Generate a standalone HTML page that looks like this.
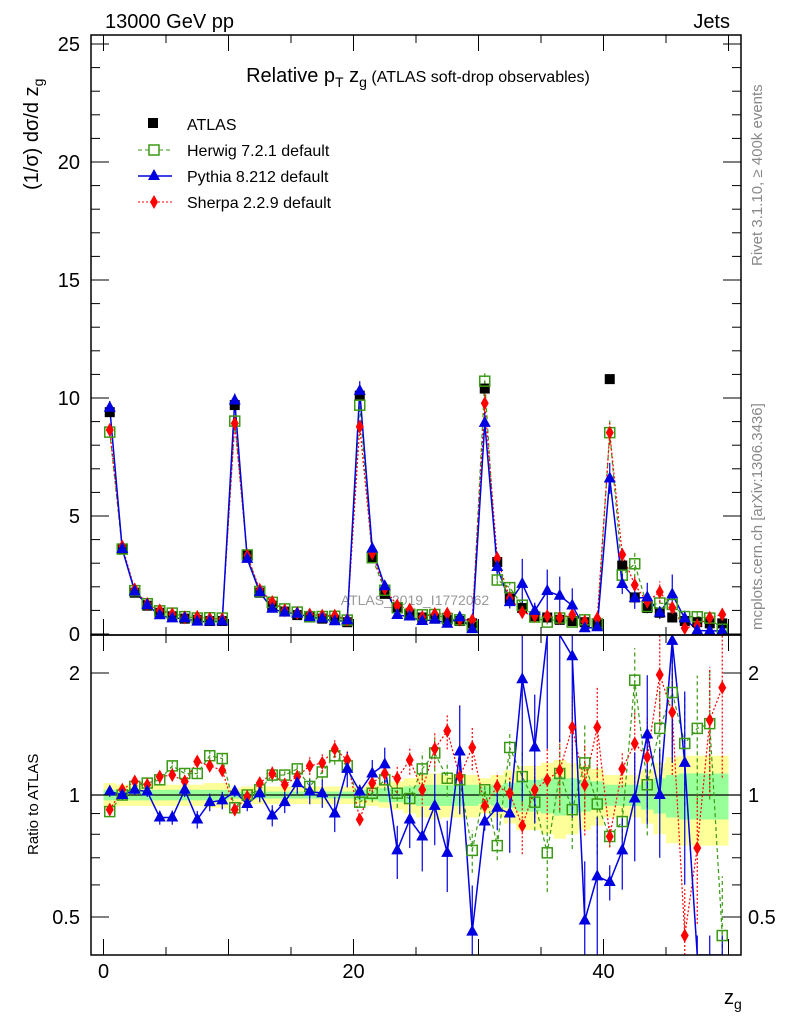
<!DOCTYPE html>
<html><head><meta charset="utf-8"><style>
html,body{margin:0;padding:0;background:#fff;font-family:"Liberation Sans",sans-serif;overflow:hidden;width:786px;height:1024px}
svg{display:block}
svg text{font-family:"Liberation Sans",sans-serif}
</style></head><body>
<svg id="c" width="786" height="1024" xmlns="http://www.w3.org/2000/svg">
<text x="105" y="28" font-size="20">13000 GeV pp</text>
<text x="730" y="28" font-size="20" text-anchor="end">Jets</text>
<text x="418" y="82" font-size="20" text-anchor="middle">Relative p<tspan font-size="14" dy="5">T</tspan><tspan dy="-5"> z</tspan><tspan font-size="14" dy="5">g</tspan><tspan dy="-5" font-size="16"> (ATLAS soft-drop observables)</tspan></text>
<text transform="translate(38,190) rotate(-90)" font-size="20">(1/σ) dσ/d z<tspan font-size="14" dy="5">g</tspan></text>
<text transform="translate(38,855) rotate(-90)" font-size="15">Ratio to ATLAS</text>
<text x="724" y="1004" font-size="20">z<tspan font-size="14" dy="5">g</tspan></text>
<text transform="translate(762,266) rotate(-90)" font-size="15" fill="#888">Rivet 3.1.10, ≥ 400k events</text>
<text transform="translate(762,630) rotate(-90)" font-size="15" fill="#888">mcplots.cern.ch [arXiv:1306.3436]</text>
<text x="415" y="605" font-size="14" fill="#999" text-anchor="middle">ATLAS_2019_I1772062</text>
<g id="legend">
<rect x="148" y="118" width="10" height="10" fill="#000"/>
<text x="187" y="130" font-size="16">ATLAS</text>
<line x1="138" y1="150" x2="172" y2="150" stroke="#3a9a14" stroke-dasharray="4,3"/>
<rect x="149" y="145" width="10" height="10" fill="#fff" stroke="#3a9a14" stroke-width="1.5"/>
<text x="187" y="156" font-size="16">Herwig 7.2.1 default</text>
<line x1="138" y1="176" x2="172" y2="176" stroke="#0000e0" stroke-width="1.5"/>
<polygon points="154,169 160,180 148,180" fill="#0000e0"/>
<text x="187" y="182" font-size="16">Pythia 8.212 default</text>
<line x1="138" y1="202" x2="172" y2="202" stroke="#f00" stroke-dasharray="2,2"/>
<polygon points="154,195 158,202 154,209 150,202" fill="#f00"/>
<text x="187" y="208" font-size="16">Sherpa 2.2.9 default</text>
</g>
</svg>
<script>
const atlas=[9.4,3.6,1.75,1.2,0.9,0.75,0.65,0.6,0.55,0.55, 9.7,3.35,1.75,1.2,0.95,0.8,0.7,0.65,0.6,0.5, 10.1,3.2,1.7,1.1,0.85,0.7,0.65,0.6,0.55,0.45, 10.4,3.05,1.5,1.1,0.75,0.7,0.6,0.55,0.5,0.45, 10.8,2.9,1.55,1.1,0.9,0.7,0.55,0.5,0.45,0.45];
const herwigRatio=[0.91,1.0,1.05,1.07,1.09,1.18,1.13,1.13,1.25,1.23, 0.93,1.0,1.03,1.12,1.12,1.16,1.05,1.14,1.25,1.18, 0.96,1.01,1.09,1.01,0.98,1.16,1.27,1.1,1.09,0.73, 1.03,0.75,1.31,1.11,0.96,0.72,1.13,0.92,1.2,0.95, 0.79,0.86,1.92,1.06,1.46,1.79,1.34,1.46,1.5,0.45];
const pythiaRatio=[1.02,1.0,1.03,1.02,0.88,0.88,1.03,0.87,0.96,0.97, 1.02,0.95,1.01,0.89,0.96,1.07,1.02,1.01,0.9,1.16, 1.02,1.13,1.19,0.73,0.87,0.79,0.94,0.72,1.28,0.46, 0.86,0.93,0.9,1.93,1.31,2.6,2.7,2.2,0.49,0.63, 0.61,0.73,0.98,1.41,1.0,2.4,1.2,0.3,0.3,0.3];
const sherpaRatio=[0.92,1.03,1.08,1.06,1.11,1.12,1.08,1.21,1.18,1.15, 0.92,0.99,1.07,1.13,1.06,1.11,1.18,1.2,1.3,1.22, 0.87,1.07,1.13,1.1,1.22,1.03,1.3,1.44,1.11,1.31, 0.94,1.05,1.01,0.84,1.03,1.09,1.15,1.47,1.06,1.47, 0.79,1.16,1.34,1.24,1.98,1.6,0.45,0.74,1.53,1.84];
const pythiaErr=[0.03,0.03,0.03,0.03,0.04,0.04,0.04,0.05,0.05,0.05, 0.03,0.04,0.05,0.06,0.06,0.06,0.07,0.08,0.1,0.1, 0.04,0.08,0.1,0.15,0.15,0.18,0.2,0.2,0.3,0.3, 0.05,0.12,0.2,0.5,0.35,0.5,0.5,0.6,0.4,0.4, 0.1,0.2,0.3,0.4,0.3,0.5,0.5,0.5,0.5,0.5];
const modelErr=[0.02,0.02,0.02,0.02,0.03,0.03,0.03,0.03,0.03,0.03, 0.02,0.03,0.03,0.04,0.04,0.04,0.05,0.05,0.05,0.05, 0.03,0.05,0.06,0.08,0.08,0.1,0.1,0.1,0.12,0.12, 0.04,0.08,0.1,0.15,0.15,0.2,0.2,0.2,0.25,0.25, 0.06,0.1,0.2,0.25,0.25,0.3,0.3,0.35,0.35,0.4];
const bandYellow=[0.07,0.06,0.06,0.06,0.06,0.06,0.06,0.06,0.07,0.07, 0.04,0.05,0.05,0.05,0.05,0.05,0.05,0.05,0.05,0.05, 0.05,0.06,0.07,0.08,0.1,0.12,0.13,0.12,0.12,0.12, 0.1,0.12,0.15,0.18,0.18,0.2,0.22,0.2,0.18,0.16, 0.12,0.12,0.12,0.15,0.2,0.24,0.25,0.25,0.25,0.25];
const bandGreen=[0.03,0.03,0.03,0.03,0.03,0.03,0.03,0.03,0.03,0.03, 0.02,0.02,0.02,0.02,0.02,0.02,0.02,0.02,0.02,0.02, 0.03,0.03,0.04,0.04,0.05,0.06,0.06,0.06,0.06,0.06, 0.05,0.06,0.07,0.09,0.09,0.1,0.11,0.1,0.09,0.08, 0.06,0.06,0.06,0.08,0.1,0.12,0.13,0.13,0.13,0.13];
const mainTicks=[0,5,10,15,20,25];
const ratioTicks=[0.5,1,2];
const xTicks=[0,20,40];

const NS='http://www.w3.org/2000/svg',svg=document.getElementById('c');
const L=91,R=741,T1=35,B1=635,T2=635,B2=955;
const X=v=>L+(v+1)*12.5;
const clamp=(v,a,b)=>Math.max(a,Math.min(b,v));
const Y=v=>clamp(634-v*23.6,T1,B1);
const YR=r=>clamp(795-Math.log2(r)*122,T2,B2);
function mk(t,a,p){const e=document.createElementNS(NS,t);for(const k in a)e.setAttribute(k,a[k]);(p||svg).appendChild(e);return e;}
const gMain=mk('g',{'clip-path':'url(#cm)'});


const gRat=mk('g',{'clip-path':'url(#cr)'});


const defs=mk('defs',{});
const c1=mk('clipPath',{id:'cm'},defs);mk('rect',{x:L,y:T1,width:R-L,height:B1-T1},c1);
const c2=mk('clipPath',{id:'cr'},defs);mk('rect',{x:L,y:T2,width:R-L,height:B2-T2},c2);
for(let i=0;i<atlas.length;i++){
 const y=mk('rect',{x:X(i),y:YR(1+bandYellow[i]),width:12.5,height:YR(1-bandYellow[i])-YR(1+bandYellow[i]),fill:'#ffff99'},gRat);
 
 
}
for(let i=0;i<atlas.length;i++){
 const g=mk('rect',{x:X(i),y:YR(1+bandGreen[i]),width:12.5,height:YR(1-bandGreen[i])-YR(1+bandGreen[i]),fill:'#99ff99'},gRat);
 
 
}
const one=mk('line',{x1:L,x2:R,y1:YR(1),y2:YR(1),stroke:'#000','stroke-width':1.2},gRat);


const series=[
 {n:'herwig',r:herwigRatio,e:modelErr,c:'#3a9a14',d:'4,3',m:'sq'},
 {n:'sherpa',r:sherpaRatio,e:modelErr,c:'#f00',d:'2,2',m:'dia'},
 {n:'pythia',r:pythiaRatio,e:pythiaErr,c:'#0000e0',d:'',m:'tri'}];
function marker(g,type,x,y,c,name,t,b){
 if(y<=t+0.5||y>=b-0.5)return;
 let e;
 if(type==='sq')e=mk('rect',{x:x-5,y:y-5,width:10,height:10,fill:'none',stroke:c,'stroke-width':1.5},g);
 else if(type==='tri')e=mk('polygon',{points:`${x},${y-7} ${x+6},${y+4} ${x-6},${y+4}`,fill:c},g);
 else if(type==='dia')e=mk('polygon',{points:`${x},${y-7} ${x+4},${y} ${x},${y+7} ${x-4},${y}`,fill:c},g);
 else e=mk('rect',{x:x-5,y:y-5,width:10,height:10,fill:c},g);
 
 
}
for(const s of series){
 for(const [g,fy] of [[gMain,(i,v)=>Y(atlas[i]*v)],[gRat,(i,v)=>YR(v)]]){
  let pts=[];
  for(let i=0;i<atlas.length;i++){
   const x=X(i+0.5),y=fy(i,s.r[i]);pts.push(x+','+y);
   const lo=fy(i,Math.max(0.05,s.r[i]*(1-s.e[i]))),hi=fy(i,s.r[i]*(1+s.e[i]));
   const eb=mk('line',{x1:x,x2:x,y1:lo,y2:hi,stroke:s.c,'stroke-width':1.2,'stroke-dasharray':s.d},g);
   
   
  }
  const pl=mk('polyline',{points:pts.join(' '),fill:'none',stroke:s.c,'stroke-width':s.m==='tri'?1.5:1.2,'stroke-dasharray':s.d},g);
  
  
 }
}
for(let i=0;i<atlas.length;i++){
 marker(gMain,'atlas',X(i+0.5),Y(atlas[i]),'#000','atlas-point',T1,B1);
}
for(const s of series){
 for(let i=0;i<atlas.length;i++){
  marker(gMain,s.m,X(i+0.5),Y(atlas[i]*s.r[i]),s.c,s.n+'-point',T1,B1);
  marker(gRat,s.m,X(i+0.5),YR(s.r[i]),s.c,s.n+'-ratio-point',T2,B2);
 }
}
for(const [t,b,n] of [[T1,B1,'main-frame'],[T2,B2,'ratio-frame']]){
 const f=mk('rect',{x:L,y:t,width:R-L,height:b-t,fill:'none',stroke:'#000','stroke-width':1.5});
 
 
}
for(let v=0;v<=25;v++){
 const major=v%5===0,len=major?18:9,y=Y(v);
 mk('line',{x1:L,x2:L+len,y1:y,y2:y,stroke:'#000'});mk('line',{x1:R,x2:R-len,y1:y,y2:y,stroke:'#000'});
}
for(const v of mainTicks){
 const t=mk('text',{x:80,y:Y(v)+7,'font-size':20,'text-anchor':'end'});t.textContent=v;
 
 
}
for(const v of [0.4,0.5,0.6,0.7,0.8,0.9,1,2]){
 const major=ratioTicks.includes(v),len=major?18:9,y=YR(v);
 mk('line',{x1:L,x2:L+len,y1:y,y2:y,stroke:'#000'});mk('line',{x1:R,x2:R-len,y1:y,y2:y,stroke:'#000'});
}
for(const v of ratioTicks){
 for(const [x,a] of [[80,'end'],[748,'start']]){
  const t=mk('text',{x:x,y:YR(v)+7,'font-size':20,'text-anchor':a});t.textContent=v;
  
  
 }
}
for(let v=0;v<=50;v+=5){
 const major=v%10===0,len=major?16:8,x=X(v);
 for(const [t,b] of [[T1,B1],[T2,B2]]){mk('line',{x1:x,x2:x,y1:b,y2:b-len,stroke:'#000'});mk('line',{x1:x,x2:x,y1:t,y2:t+len,stroke:'#000'});}
}
for(const v of xTicks){
 const t=mk('text',{x:X(v),y:978,'font-size':20,'text-anchor':'middle'});t.textContent=v;
 
 
}
svg.appendChild(document.getElementById('legend'));
</script>
</body></html>
